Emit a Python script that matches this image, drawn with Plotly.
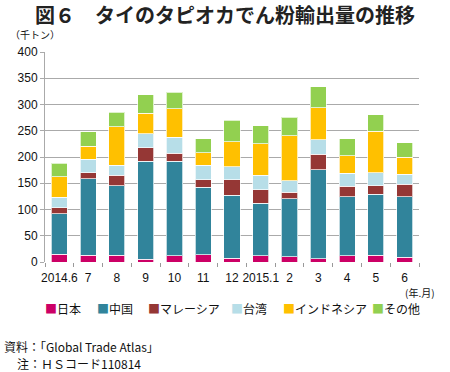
import plotly.graph_objects as go

months = ["2014.6", "7", "8", "9", "10", "11", "12", "2015.1", "2", "3", "4", "5", "6"]
series_names = ["日本", "中国", "マレーシア", "台湾", "インドネシア", "その他"]
colors = ["#CC0066", "#31849B", "#953735", "#B7DEE8", "#FFC000", "#92D050"]

japan =     [15, 13, 13, 5, 11.5, 14, 7.6, 11.5, 9.6, 6.4, 11.5, 12.7, 9]
china =     [77, 146, 132, 187, 180, 128, 120, 100, 111, 169, 113, 116, 115]
malaysia =  [11, 11, 20, 26, 16, 15, 29, 26, 12, 30, 20, 16.5, 24]
taiwan =    [20, 25.5, 19, 26, 30.5, 27, 25, 28, 22.4, 27.5, 25, 25, 19]
indonesia = [39, 25, 74, 39, 54, 24, 47, 60, 85.4, 61, 32.6, 78.4, 33]
other =     [26, 28, 27, 36, 31, 27, 41, 34, 35.7, 39.5, 32.4, 32, 27]

y_ticks = [0, 50, 100, 150, 200, 250, 300, 350, 400]

values = [japan, china, malaysia, taiwan, indonesia, other]

FONT = "Noto Sans CJK JP"
NUMFONT = "Liberation Sans Narrow, Liberation Sans, Arial"

fig = go.Figure()
for name, col, vals in zip(series_names, colors, values):
    fig.add_trace(go.Bar(
        x=months, y=vals, name=name,
        marker=dict(color=col, line=dict(color="rgba(255,255,255,0.7)", width=1)),
        showlegend=False,
    ))

fig.update_layout(
    barmode="stack",
    bargap=0.44,
    width=450, height=372,
    margin=dict(l=45, r=31, t=52, b=110, autoexpand=False),
    plot_bgcolor="white", paper_bgcolor="white",
    font=dict(family=NUMFONT, size=11, color="#111111"),
    xaxis=dict(
        type="category", ticks="outside", tickson="boundaries", ticklen=4,
        tickcolor="#999999", showgrid=False, showline=False, zeroline=False,
        tickangle=0, automargin=False, ticklabelstandoff=7,
        tickfont=dict(family=NUMFONT, size=12, color="#111111"),
    ),
    yaxis=dict(
        range=[0, 400], tickvals=y_ticks, ticks="outside", ticklen=4, tickcolor="#aaaaaa",
        showgrid=True, gridcolor="#aaaaaa", gridwidth=1.2, automargin=False,
        showline=True, linecolor="#aaaaaa", linewidth=1, zeroline=False,
        tickfont=dict(family=NUMFONT, size=12, color="#111111"),
    ),
)

# convert pixel positions to paper coords
pw, ph = 450 - 45 - 31, 372 - 52 - 110
def px(x): return (x - 45) / pw
def py(y): return (372 - 110 - y) / ph

annotations = [
    dict(text="<b>図６　タイのタピオカでん粉輸出量の推移</b>", x=px(225), y=py(15),
         xanchor="center", yanchor="middle", font=dict(family=FONT, size=20, color="#222222")),
    dict(text="（千トン）", x=px(8), y=py(34), xanchor="left", yanchor="middle",
         font=dict(family=FONT, size=10, color="#111111")),
    dict(text="(年.月)", x=px(436), y=py(292), xanchor="right", yanchor="middle", borderpad=0,
         font=dict(family=FONT, size=10, color="#111111")),
    dict(text="資料：「Global Trade Atlas」", x=px(2), y=py(346), xanchor="left", yanchor="middle",
         font=dict(family=FONT, size=12, color="#111111")),
    dict(text="注：ＨＳコード110814", x=px(15), y=py(363), xanchor="left", yanchor="middle",
         font=dict(family=FONT, size=12, color="#111111")),
]
legend_x = [44, 96, 147, 230, 282, 371]
for name, col, lx in zip(series_names, colors, legend_x):
    annotations.append(dict(
        text=f"<span style='color:{col}'>■</span>{name}", x=px(lx), y=py(308), borderpad=0,
        xanchor="left", yanchor="middle", font=dict(family=FONT, size=12, color="#111111")))

for a in annotations:
    a.update(xref="paper", yref="paper", showarrow=False)
fig.update_layout(annotations=annotations)

fig.write_html("out.html", config={"displayModeBar": False},
               post_script="document.body.style.margin='0';document.body.style.overflow='hidden';")
